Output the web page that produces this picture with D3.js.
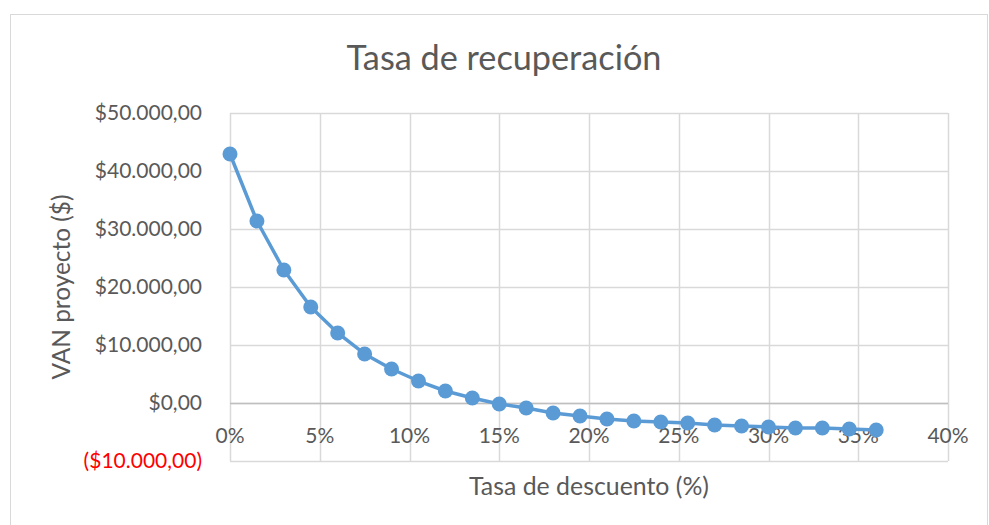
<!DOCTYPE html>
<html><head><meta charset="utf-8">
<script src="https://cdn.jsdelivr.net/npm/d3@7"></script>
<style>body{margin:0;background:#fff}svg{display:block}text{font-family:Lato,"Open Sans",sans-serif}</style>
</head><body>
<svg id="c" width="989" height="525"></svg>
<script>
const rates = [0,1.5,3,4.5,6,7.5,9,10.5,12,13.5,15,16.5,18,19.5,21,22.5,24,25.5,27,28.5,30,31.5,33,34.5,36];
const van = [42930,31380,22930,16550,12070,8450,5860,3790,2070,860,-170,-860,-1720,-2240,-2760,-3100,-3280,-3450,-3790,-3970,-4140,-4310,-4310,-4480,-4660];
const xTicks = [0,5,10,15,20,25,30,35,40];
const yTicks = [-10000,0,10000,20000,30000,40000,50000];
const title = "Tasa de recuperación";
const xTitle = "Tasa de descuento (%)";
const yTitle = "VAN proyecto ($)";

const svg = d3.select("#c");
const x = d3.scaleLinear().domain([0,40]).range([230,948]);
const y = d3.scaleLinear().domain([-10000,50000]).range([461,113]);

svg.append("rect").attr("x",10.5).attr("y",14.5).attr("width",977).attr("height",520)
  .attr("fill","#fff").attr("stroke","#d9d9d9");

const fmt = v => {
  const s = "$" + d3.format(",.2f")(Math.abs(v)).replace(/,/g,"#").replace(".",",").replace(/#/g,".");
  return v<0 ? "("+s+")" : s;
};
function fit(sel, w) {
  const n = sel.node(); const fs = +sel.attr("font-size");
  const len = n.getComputedTextLength();
  if (len > 0) sel.attr("font-size", fs * w / len);
  return sel;
}

// gridlines
svg.append("g").selectAll("line").data(yTicks).join("line")
  .attr("x1",x(0)).attr("x2",x(40)).attr("y1",d=>Math.round(y(d))+0.5).attr("y2",d=>Math.round(y(d))+0.5)
  .attr("stroke","#d9d9d9").attr("stroke-width",1.5);
svg.append("g").selectAll("line").data(xTicks).join("line")
  .attr("x1",d=>Math.round(x(d))+0.5).attr("x2",d=>Math.round(x(d))+0.5).attr("y1",y(50000)).attr("y2",y(-10000))
  .attr("stroke","#d9d9d9").attr("stroke-width",1.5);
svg.append("line").attr("x1",x(0)).attr("x2",x(40)).attr("y1",Math.round(y(0))+0.5).attr("y2",Math.round(y(0))+0.5)
  .attr("stroke","#bfbfbf").attr("stroke-width",1.5);

// y tick labels
svg.append("g").selectAll("text").data(yTicks).join("text")
  .attr("x",202).attr("y",d=>y(d)).attr("dy","0.35em").attr("text-anchor","end")
  .attr("font-size",21).attr("fill",d=>d<0?"#ff0000":"#595959").text(fmt);
// x tick labels
svg.append("g").selectAll("text").data(xTicks).join("text")
  .attr("x",d=>x(d)).attr("y",436).attr("dy","0.35em").attr("text-anchor","middle")
  .attr("font-size",21).attr("fill","#595959").text(d=>d+"%");

// line + markers
const line = d3.line().x((d,i)=>x(rates[i])).y(d=>y(d));
svg.append("path").datum(van).attr("d",line).attr("fill","none").attr("stroke","#5b9bd5").attr("stroke-width",3.5).attr("stroke-linejoin","round");
svg.append("g").selectAll("circle").data(van).join("circle")
  .attr("cx",(d,i)=>x(rates[i])).attr("cy",d=>y(d)).attr("r",7.5).attr("fill","#5b9bd5");

// titles
fit(svg.append("text").attr("x",504).attr("y",70).attr("text-anchor","middle")
  .attr("font-size",34).attr("fill","#595959").text(title), 315);
fit(svg.append("text").attr("x",589).attr("y",495).attr("text-anchor","middle")
  .attr("font-size",25).attr("fill","#595959").text(xTitle), 240);
fit(svg.append("text").attr("transform","translate(70,287) rotate(-90)").attr("text-anchor","middle")
  .attr("font-size",25).attr("fill","#595959").text(yTitle), 185);
</script>
</body></html>
